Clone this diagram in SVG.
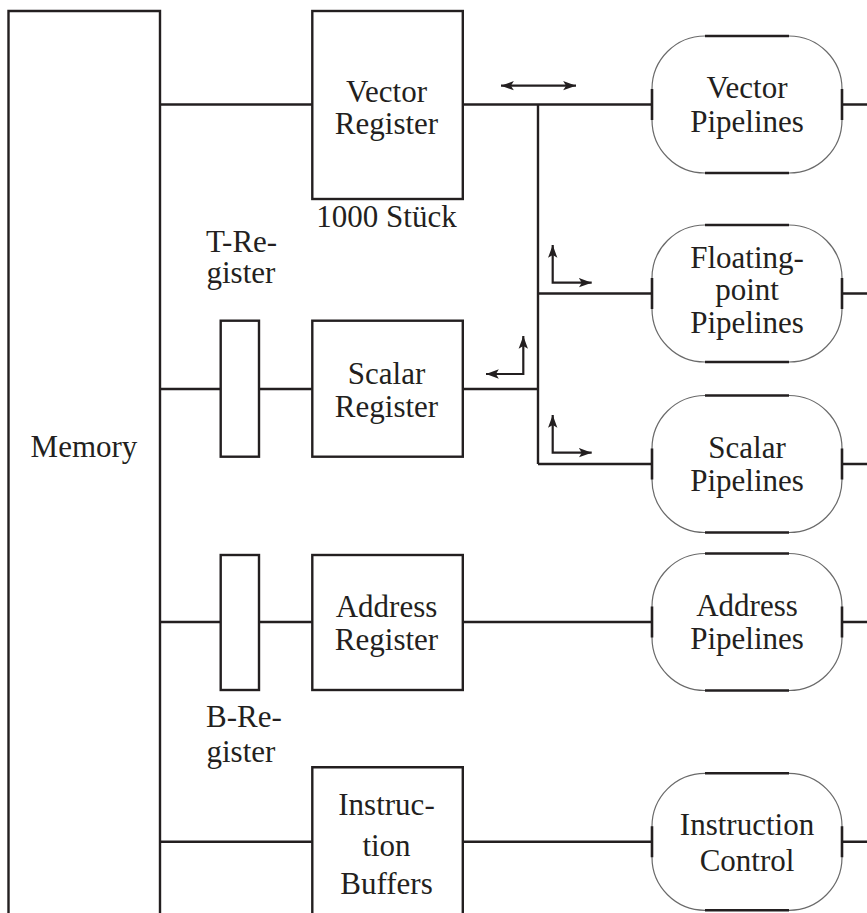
<svg xmlns="http://www.w3.org/2000/svg" width="867" height="913" viewBox="0 0 867 913">
<style>
.box{fill:none;stroke:#231f20;stroke-width:2.4}
.ln{fill:none;stroke:#231f20;stroke-width:2.4}
.arc{fill:none;stroke:#6a6a6a;stroke-width:1.2}
.thk{fill:none;stroke:#231f20;stroke-width:2.6}
.ar{fill:none;stroke:#231f20;stroke-width:2.2;marker-start:url(#ah);marker-end:url(#ah)}
text{font-family:"Liberation Serif","DejaVu Serif",serif;font-size:31px;fill:#231f20;text-anchor:middle}
.l{text-anchor:start}
</style>
<defs>
<marker id="ah" markerUnits="userSpaceOnUse" markerWidth="14" markerHeight="10" refX="11" refY="4" orient="auto-start-reverse" viewBox="0 0 12 8">
<path d="M0,0 L11,4 L0,8 L2.5,4 z" fill="#231f20"/>
</marker>
<g id="pipe">
<rect class="arc" x="0" y="0" width="190" height="137" rx="53" ry="53"/>
<path class="thk" d="M53,0 H137 M53,137 H137 M0,53 V84 M190,53 V84"/>
</g>
</defs>

<g id="connectors">
<path class="ln" d="M160,104.5 H312"/>
<path class="ln" d="M462,104.5 H652"/>
<path class="ln" d="M538,104.5 V464"/>
<path class="ln" d="M538,293.5 H652"/>
<path class="ln" d="M538,464 H652"/>
<path class="ln" d="M462,389 H538"/>
<path class="ln" d="M160,389 H221 M259,389 H312"/>
<path class="ln" d="M160,622 H221 M259,622 H312"/>
<path class="ln" d="M462,622 H652"/>
<path class="ln" d="M160,841.7 H312"/>
<path class="ln" d="M462,841.7 H652"/>
<path class="ln" d="M842,104.5 H867 M842,293.5 H867 M842,464 H867 M842,622 H867 M842,841.7 H867"/>
<path class="ar" d="M501,85.7 H576"/>
<path class="ar" d="M552.7,245 V282.7 H591.7"/>
<path class="ar" d="M523.3,336 V374 H486"/>
<path class="ar" d="M552.7,415 V452.7 H591.7"/>
</g>

<g id="memory">
<path class="box" d="M8.5,920 V11 H160 V920"/>
<text x="84" y="457">Memory</text>
</g>

<g id="vector-register">
<rect class="box" x="312.3" y="11" width="150.5" height="188"/>
<text x="386.5" y="101.7">Vector</text>
<text x="386.5" y="134">Register</text>
<text x="386.5" y="226.7">1000 Stück</text>
</g>

<g id="t-register">
<rect class="box" x="220.7" y="320.7" width="38.3" height="136"/>
<text class="l" x="206" y="251.7">T-Re-</text>
<text class="l" x="206.5" y="283.3">gister</text>
</g>

<g id="scalar-register">
<rect class="box" x="312.3" y="320.7" width="150.5" height="136"/>
<text x="386.5" y="384">Scalar</text>
<text x="386.5" y="416.5">Register</text>
</g>

<g id="b-register">
<rect class="box" x="220.7" y="555" width="38.3" height="135"/>
<text class="l" x="206" y="726.7">B-Re-</text>
<text class="l" x="206.5" y="761.7">gister</text>
</g>

<g id="address-register">
<rect class="box" x="312.3" y="555" width="150.5" height="135"/>
<text x="386.5" y="617">Address</text>
<text x="386.5" y="649.5">Register</text>
</g>

<g id="instruction-buffers">
<path class="box" d="M312.3,920 V767.3 H462.8 V920"/>
<text x="386.5" y="815">Instruc-</text>
<text x="386.5" y="856">tion</text>
<text x="386.5" y="894">Buffers</text>
</g>

<g id="vector-pipelines">
<use href="#pipe" x="652" y="36"/>
<text x="747" y="98.3">Vector</text>
<text x="747" y="131.7">Pipelines</text>
</g>

<g id="floating-point-pipelines">
<use href="#pipe" x="652" y="225"/>
<text x="747" y="268">Floating-</text>
<text x="747" y="300">point</text>
<text x="747" y="333">Pipelines</text>
</g>

<g id="scalar-pipelines">
<use href="#pipe" x="652" y="395.5"/>
<text x="747" y="458">Scalar</text>
<text x="747" y="491">Pipelines</text>
</g>

<g id="address-pipelines">
<use href="#pipe" x="652" y="553.5"/>
<text x="747" y="616">Address</text>
<text x="747" y="649">Pipelines</text>
</g>

<g id="instruction-control">
<use href="#pipe" x="652" y="773.3"/>
<text x="747" y="834.5">Instruction</text>
<text x="747" y="871">Control</text>
</g>
</svg>
